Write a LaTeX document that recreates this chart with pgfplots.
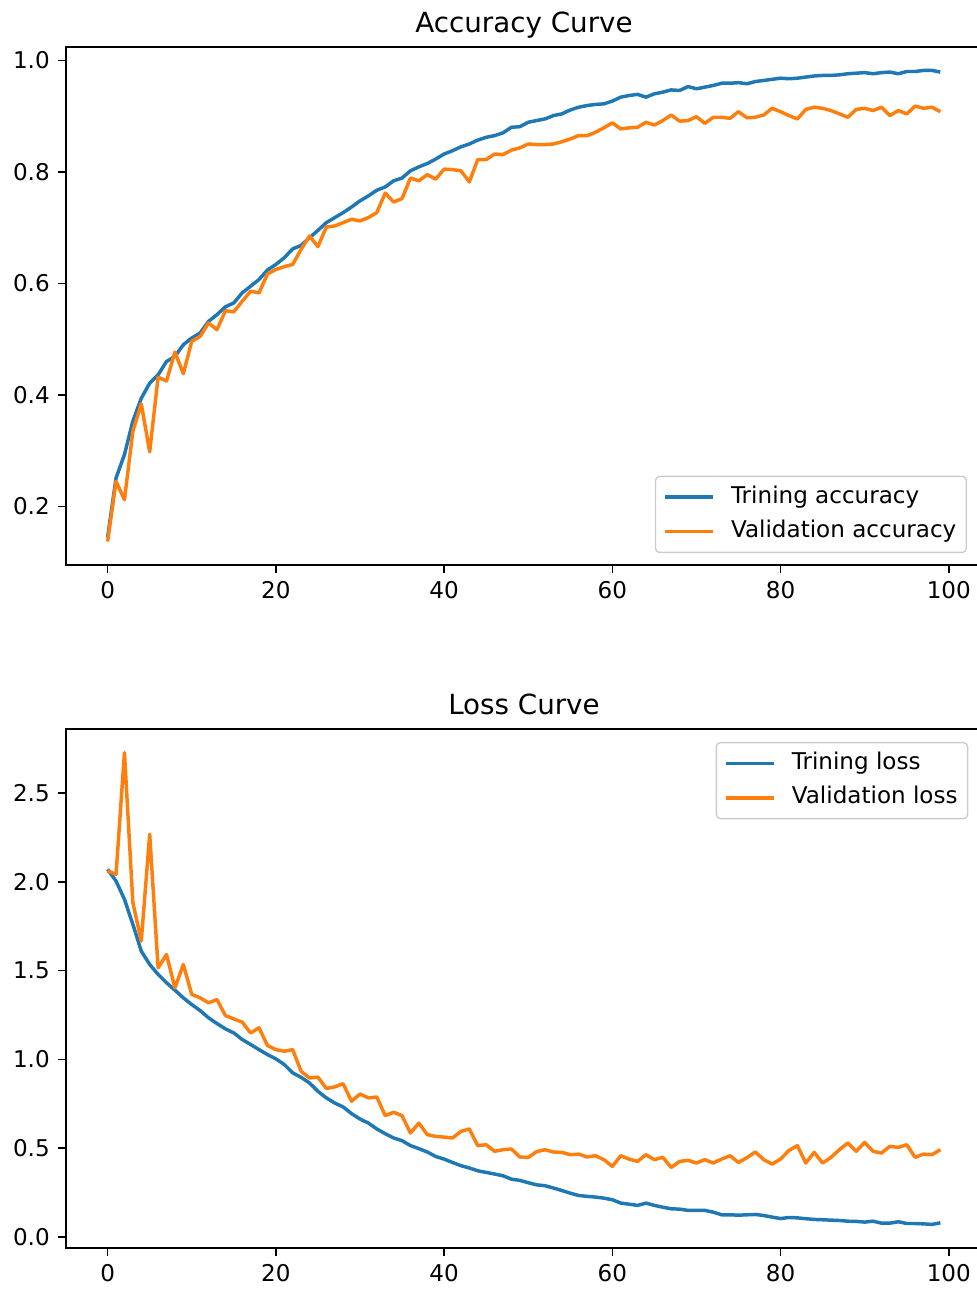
\documentclass[border=0pt]{standalone}
\usepackage{fontspec}
\setmainfont{DejaVu Sans}
\usepackage{pgfplots}
\usepackage{pgfplotstable}
\pgfplotsset{compat=1.18}
\definecolor{mplblue}{HTML}{1F77B4}
\definecolor{mplorange}{HTML}{FF7F0E}

\pgfplotstableread{
epoch train val
0 0.145 0.137
1 0.251 0.245
2 0.293 0.212
3 0.353 0.335
4 0.394 0.384
5 0.421 0.298
6 0.436 0.432
7 0.460 0.425
8 0.469 0.477
9 0.490 0.438
10 0.502 0.496
11 0.511 0.505
12 0.532 0.529
13 0.544 0.517
14 0.558 0.551
15 0.565 0.549
16 0.583 0.568
17 0.595 0.586
18 0.607 0.583
19 0.624 0.617
20 0.634 0.625
21 0.646 0.630
22 0.662 0.634
23 0.668 0.661
24 0.682 0.685
25 0.695 0.666
26 0.709 0.701
27 0.718 0.703
28 0.727 0.709
29 0.737 0.715
30 0.748 0.712
31 0.757 0.718
32 0.767 0.727
33 0.773 0.762
34 0.784 0.746
35 0.789 0.752
36 0.802 0.789
37 0.809 0.784
38 0.815 0.795
39 0.823 0.787
40 0.832 0.805
41 0.838 0.804
42 0.845 0.802
43 0.850 0.782
44 0.857 0.822
45 0.862 0.822
46 0.865 0.832
47 0.870 0.831
48 0.880 0.839
49 0.881 0.843
50 0.889 0.850
51 0.892 0.849
52 0.895 0.849
53 0.901 0.850
54 0.904 0.854
55 0.911 0.859
56 0.916 0.865
57 0.919 0.865
58 0.921 0.871
59 0.922 0.879
60 0.927 0.888
61 0.934 0.877
62 0.937 0.879
63 0.939 0.880
64 0.934 0.889
65 0.940 0.884
66 0.943 0.892
67 0.947 0.902
68 0.946 0.891
69 0.953 0.892
70 0.949 0.899
71 0.952 0.887
72 0.955 0.898
73 0.959 0.898
74 0.959 0.896
75 0.960 0.908
76 0.958 0.897
77 0.962 0.898
78 0.964 0.902
79 0.966 0.914
80 0.968 0.908
81 0.967 0.901
82 0.968 0.895
83 0.970 0.912
84 0.972 0.916
85 0.973 0.914
86 0.973 0.910
87 0.974 0.904
88 0.976 0.898
89 0.977 0.912
90 0.978 0.914
91 0.976 0.910
92 0.978 0.916
93 0.979 0.901
94 0.976 0.910
95 0.980 0.904
96 0.980 0.918
97 0.982 0.914
98 0.982 0.916
99 0.979 0.908
}\acctable

\pgfplotstableread{
epoch train val
0 2.071 2.062
1 2.005 2.043
2 1.902 2.729
3 1.761 1.883
4 1.610 1.667
5 1.535 2.269
6 1.479 1.516
7 1.432 1.591
8 1.390 1.403
9 1.347 1.535
10 1.309 1.366
11 1.275 1.347
12 1.234 1.319
13 1.202 1.337
14 1.172 1.247
15 1.149 1.228
16 1.112 1.210
17 1.084 1.149
18 1.055 1.178
19 1.027 1.078
20 1.003 1.055
21 0.971 1.046
22 0.924 1.055
23 0.899 0.933
24 0.867 0.895
25 0.820 0.900
26 0.783 0.836
27 0.754 0.845
28 0.732 0.863
29 0.694 0.764
30 0.664 0.805
31 0.641 0.783
32 0.608 0.788
33 0.581 0.683
34 0.557 0.702
35 0.542 0.683
36 0.514 0.585
37 0.497 0.641
38 0.478 0.576
39 0.453 0.566
40 0.438 0.562
41 0.419 0.557
42 0.401 0.594
43 0.388 0.608
44 0.372 0.514
45 0.363 0.519
46 0.354 0.482
47 0.344 0.491
48 0.325 0.495
49 0.318 0.450
50 0.305 0.447
51 0.293 0.480
52 0.288 0.491
53 0.275 0.478
54 0.261 0.476
55 0.246 0.463
56 0.233 0.466
57 0.228 0.450
58 0.224 0.457
59 0.218 0.435
60 0.209 0.397
61 0.190 0.457
62 0.184 0.438
63 0.177 0.425
64 0.190 0.463
65 0.177 0.435
66 0.167 0.448
67 0.158 0.391
68 0.156 0.425
69 0.149 0.431
70 0.149 0.416
71 0.149 0.435
72 0.139 0.416
73 0.124 0.438
74 0.124 0.457
75 0.122 0.419
76 0.124 0.446
77 0.126 0.478
78 0.120 0.435
79 0.111 0.410
80 0.103 0.438
81 0.109 0.487
82 0.107 0.514
83 0.102 0.416
84 0.098 0.476
85 0.096 0.416
86 0.094 0.448
87 0.092 0.491
88 0.088 0.529
89 0.087 0.482
90 0.083 0.532
91 0.088 0.482
92 0.077 0.472
93 0.077 0.510
94 0.085 0.504
95 0.075 0.519
96 0.075 0.448
97 0.073 0.466
98 0.070 0.463
99 0.079 0.491
}\losstable

\pgfplotsset{
  mplaxis/.style={
    scale only axis,
    width=687pt,
    xmin=-4.95, xmax=103.95,
    xtick={0,20,40,60,80,100},
    tick align=outside,
    tick pos=left,
    major tick length=6pt,
    major tick style={line width=1.2pt, black},
    axis line style={line width=1.2pt, black},
    /pgf/number format/assume math mode=true,
    tick label style={font=\fontsize{17.3}{20}\selectfont, black},
    xticklabel style={inner sep=0pt, yshift=-6pt},
    yticklabel style={inner sep=0pt, xshift=-6pt},
    title style={font=\fontsize{20.8}{24}\selectfont, anchor=base, at={(0.5,1)}, yshift=4.75pt},
    legend cell align=left,
    legend style={font=\fontsize{17.3}{20}\selectfont, draw=black!20, line width=1pt,
      rounded corners=3pt, fill=white, inner xsep=6pt, inner ysep=6pt,
      row sep=7pt, column sep=10.5pt,
      nodes={inner sep=1.5pt, text height=12.5pt, text depth=3.5pt}},
    legend image code/.code={\draw[#1, line width=2.6pt] (0pt,0pt) -- (36pt,0pt);},
    every axis plot/.append style={line width=2.6pt, line join=round, no markers},
  }
}

\begin{document}
\begin{tikzpicture}
\begin{axis}[mplaxis,
  at={(49.5pt,543pt)}, anchor=south west, height=388.5pt,
  ymin=0.095, ymax=1.024,
  ytick={0.2,0.4,0.6,0.8,1.0},
  yticklabel style={/pgf/number format/.cd, fixed, fixed zerofill, precision=1},
  title={Accuracy Curve},
  legend style={at={(0.9836,0.023)}, anchor=south east},
]
\addplot[mplblue] table[x=epoch, y=train] {\acctable};
\addlegendentry{Trining accuracy}
\addplot[mplorange] table[x=epoch, y=val] {\acctable};
\addlegendentry{Validation accuracy}
\end{axis}

\begin{axis}[mplaxis,
  at={(49.5pt,30.75pt)}, anchor=south west, height=389.25pt,
  ymin=-0.063, ymax=2.862,
  ytick={0,0.5,1.0,1.5,2.0,2.5},
  yticklabel style={/pgf/number format/.cd, fixed, fixed zerofill, precision=1},
  title={Loss Curve},
  legend style={at={(0.985,0.975)}, anchor=north east},
]
\addplot[mplblue] table[x=epoch, y=train] {\losstable};
\addlegendentry{Trining loss}
\addplot[mplorange] table[x=epoch, y=val] {\losstable};
\addlegendentry{Validation loss}
\end{axis}
\pgfresetboundingbox
\path[use as bounding box] (0,0) rectangle (732pt,966.75pt);
\end{tikzpicture}
\end{document}
